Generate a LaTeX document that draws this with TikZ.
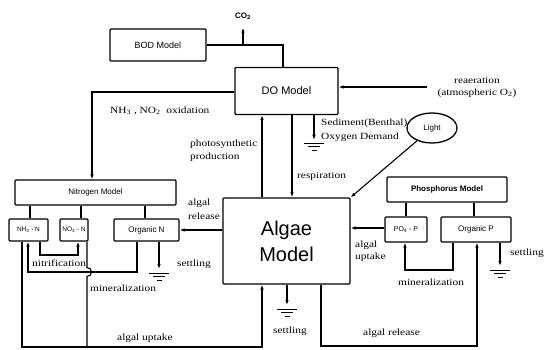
\documentclass[tikz,border=0pt]{standalone}
\usepackage{fontspec}
\setmainfont{Liberation Serif}[FakeStretch=1.2]
\setsansfont{Liberation Sans}
\usetikzlibrary{arrows.meta,shapes.geometric,calc}
\begin{document}
\begin{tikzpicture}[x=1pt,y=-1pt,
  box/.style={draw,line width=1.2pt,rounded corners=1pt,font=\sffamily\fontsize{8}{9}\selectfont,inner sep=0pt},
  conn/.style={line width=1.1pt},
  arr/.style={conn,-{Latex[length=5pt,width=3.5pt]}},
  lbl/.style={font=\fontsize{9.5}{10.5}\selectfont,inner sep=0pt,anchor=west},
  gnd/.pic={\draw[line width=0.6pt] (-10,0)--(10,0) (-6,3.5)--(6,3.5) (-2.5,7)--(2.5,7);}
]
\fill[white] (0,0) rectangle (552,350);
\useasboundingbox (0,0) rectangle (552,350);

% boxes
\node[box,minimum width=96pt,minimum height=32pt,font=\sffamily\fontsize{9}{10}\selectfont] (bod) at (158,45) {BOD Model};
\node[box,minimum width=103pt,minimum height=47pt,font=\sffamily\fontsize{11}{12}\selectfont] (do) at (286.5,91) {DO Model};
\node[box,minimum width=161pt,minimum height=25pt] (nit) at (95.5,192.5) {Nitrogen Model};
\node[box,minimum width=39pt,minimum height=22pt,font=\sffamily\fontsize{6.5}{7}\selectfont] (nh3) at (28.5,230) {NH\textsubscript{3} - N};
\node[box,minimum width=28pt,minimum height=22pt,font=\sffamily\fontsize{6.5}{7}\selectfont] (no3) at (74,230) {NO\textsubscript{3} - N};
\node[box,minimum width=65pt,minimum height=22pt] (orgN) at (146.5,230) {Organic N};
\node[box,minimum width=127pt,minimum height=86pt,font=\sffamily\fontsize{20}{26}\selectfont,align=center] (alg) at (286.5,241) {Algae\\Model};
\node[box,minimum width=120pt,minimum height=25pt,font=\sffamily\bfseries\fontsize{8}{9}\selectfont] (phos) at (447,189.5) {Phosphorus Model};
\node[box,minimum width=42pt,minimum height=25pt,font=\sffamily\fontsize{7}{8}\selectfont] (po4) at (406,229.5) {PO\textsubscript{4} - P};
\node[box,minimum width=70pt,minimum height=25pt] (orgP) at (476,229.5) {Organic P};
\node[draw,ellipse,line width=1.3pt,inner sep=0pt,minimum width=50pt,minimum height=30pt,font=\sffamily\fontsize{8}{9}\selectfont] (light) at (432,128) {Light};
\node[font=\sffamily\bfseries\fontsize{8}{9}\selectfont,inner sep=1pt] (co2) at (243,16) {CO\textsubscript{2}};

% coordinates
\coordinate (bj) at (283,45);
\coordinate (co2b) at (243,45);
\coordinate (rea) at (427,87);
\coordinate (ox) at (92,92);
\coordinate (sed) at (314,140);
\coordinate (ph) at (262,0);
\coordinate (rs) at (292,0);
\coordinate (ar) at (0,230);
\coordinate (n1) at (30,0);
\coordinate (n2) at (81,0);
\coordinate (n3) at (145,0);
\coordinate (p1) at (406,0);
\coordinate (p2) at (474,0);
\coordinate (nf1) at (40,255);
\coordinate (nf2) at (78,255);
\coordinate (mn1) at (137,272);
\coordinate (mn2) at (28,272);
\coordinate (nl) at (87,347);
\coordinate (ou) at (22,347);
\coordinate (au) at (262,347);
\coordinate (sn) at (159,269);
\coordinate (sa) at (287,305);
\coordinate (up) at (0,228);
\coordinate (mp1) at (453,270);
\coordinate (mp2) at (405,270);
\coordinate (rp1) at (321,346);
\coordinate (rp2) at (477,346);
\coordinate (sp) at (500,266);

% connectors
\draw[conn] (bod.east |- bj) -- (bj) -- (bj |- do.north);
\draw[arr] (co2b) -- ($(co2b |- co2.south)+(0,7)$);
\draw[arr] (rea) -- (rea -| do.east);
\draw[arr] (ox -| do.west) -- (ox) -- (ox |- nit.north);
\draw[arr] (sed |- do.south) -- (sed);
\pic at (314,143) {gnd};
\draw[arr] (ph |- alg.north) -- (ph |- do.south);
\draw[arr] (rs |- do.south) -- (rs |- alg.north);
\draw[arr] (light) -- (alg.north east);
\draw[arr] (alg.west |- ar) -- (orgN.east |- ar);
\draw[conn] (n1 |- nit.south) -- (n1 |- nh3.north);
\draw[conn] (n2 |- nit.south) -- (n2 |- no3.north);
\draw[conn] (n3 |- nit.south) -- (n3 |- orgN.north);
\draw[conn] (p1 |- phos.south) -- (p1 |- po4.north);
\draw[conn] (p2 |- phos.south) -- (p2 |- orgP.north);
\draw[arr] (nf1 |- nh3.south) -- (nf1) -- (nf2) -- (nf2 |- no3.south);
\draw[arr] (mn1 |- orgN.south) -- (mn1) -- (mn2) -- (mn2 |- nh3.south);
\draw[conn] (nl |- no3.south) -- (87,267.5) .. controls (93,267.5) and (93,276.5) .. (87,276.5) -- (nl);
\draw[arr] (ou |- nh3.south) -- (ou) -- (au) -- (au |- alg.south);
\draw[arr] (sn |- orgN.south) -- (sn);
\pic at (159,273) {gnd};
\draw[arr] (sa |- alg.south) -- (sa);
\pic at (287,309) {gnd};
\draw[arr] (po4.west |- up) -- (alg.east |- up);
\draw[arr] (mp1 |- orgP.south) -- (mp1) -- (mp2) -- (mp2 |- po4.south);
\draw[arr] (rp1 |- alg.south) -- (rp1) -- (rp2) -- (rp2 |- orgP.south);
\draw[arr] (sp |- orgP.south) -- (sp);
\pic at (500,270) {gnd};

% labels
\node[lbl] (t1) at (110,111) {NH\textsubscript{3} , NO\textsubscript{2}\ \ oxidation};
\node[lbl] (t2) at (190,144) {photosynthetic};
\node[lbl] (t3) at (190,157) {production};
\node[lbl] (t4) at (297,176) {respiration};
\node[lbl] (t5) at (321,123) {Sediment(Benthal)};
\node[lbl] (t6) at (321,137) {Oxygen Demand};
\node[lbl,anchor=center] (t7) at (477,80) {reaeration};
\node[lbl,anchor=center] (t8) at (477,93) {(atmospheric O\textsubscript{2})};
\node[lbl] (t9) at (188,203) {algal};
\node[lbl] (t10) at (188,216) {release};
\node[lbl] (t11) at (177,264) {settling};
\node[lbl] (t12) at (32,263) {nitrification};
\node[lbl] (t13) at (90,288) {mineralization};
\node[lbl] (t14) at (117,338) {algal uptake};
\node[lbl] (t15) at (273,331) {settling};
\node[lbl] (t16) at (355,245) {algal};
\node[lbl] (t17) at (355,257) {uptake};
\node[lbl] (t18) at (398,282) {mineralization};
\node[lbl] (t19) at (363,333) {algal release};
\node[lbl] (t20) at (510,253) {settling};
\end{tikzpicture}
\end{document}
